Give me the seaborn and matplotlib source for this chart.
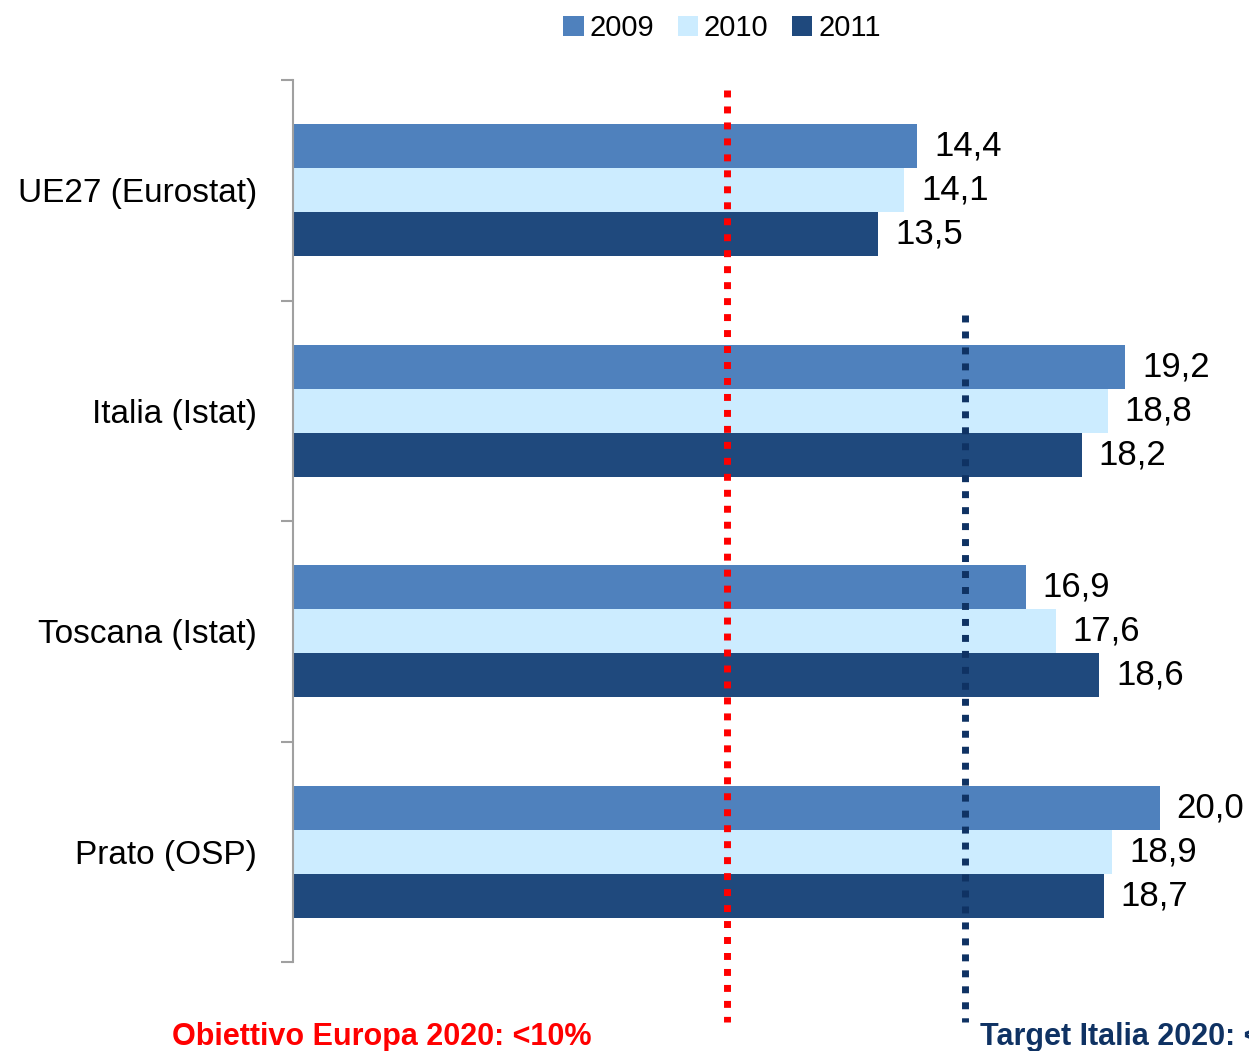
import pandas as pd
import numpy as np
import matplotlib.pyplot as plt
import seaborn as sns
from matplotlib.ticker import FixedLocator

# Data
categories = ['UE27 (Eurostat)', 'Italia (Istat)', 'Toscana (Istat)', 'Prato (OSP)']
years = ['2009', '2010', '2011']
v2009 = [14.4, 19.2, 16.9, 20.0]
v2010 = [14.1, 18.8, 17.6, 18.9]
v2011 = [13.5, 18.2, 18.6, 18.7]
target_europa = 10.0
target_italia = 15.5

colors = ['#4F81BD', '#CCECFF', '#1F497D']

df = pd.DataFrame({
    'Area': categories * 3,
    'Anno': [y for y in years for _ in categories],
    'Valore': v2009 + v2010 + v2011,
})

sns.set_style('white')
plt.rcParams['font.family'] = ['Liberation Sans Narrow', 'Liberation Sans', 'DejaVu Sans']
plt.rcParams['text.color'] = 'black'
plt.rcParams['ytick.labelcolor'] = 'black'

fig = plt.figure(figsize=(12.49, 10.51), dpi=100)
ax = fig.add_axes([293 / 1249, 1 - 962 / 1051, 1 - 293 / 1249, 882 / 1051])

sns.barplot(data=df, y='Area', x='Valore', hue='Anno', order=categories,
            hue_order=years, palette=colors, saturation=1, width=0.6,
            linewidth=0, orient='h', ax=ax)

ax.set_xlim(0, 956 / 43.35)
ax.set_ylim(3.5, -0.5)
ax.set_xlabel('')
ax.set_ylabel('')
ax.set_xticks([])

# value labels
for cont in ax.containers:
    labels = [f'{v:.1f}'.replace('.', ',') for v in cont.datavalues]
    ax.bar_label(cont, labels=labels, padding=12, fontsize=25, color='black', clip_on=False)

# spines and ticks
for s in ['top', 'right', 'bottom']:
    ax.spines[s].set_visible(False)
ax.spines['left'].set_color('#A0A0A0')
ax.spines['left'].set_linewidth(1.5)
ax.yaxis.set_minor_locator(FixedLocator([-0.5, 0.5, 1.5, 2.5, 3.5]))
ax.tick_params(axis='y', which='major', length=0, pad=26, labelsize=24, labelcolor='black')
ax.tick_params(axis='y', which='minor', length=9, width=1.5, color='#A0A0A0', left=True)

# target lines
ax.plot([target_europa, target_europa], [-0.455, 3.77], color='#FF0000', lw=5,
        linestyle=(0, (1, 1.3)), clip_on=False, zorder=5)
ax.plot([target_italia, target_italia], [0.566, 3.77], color='#0F3263', lw=5,
        linestyle=(0, (1, 1.3)), clip_on=False, zorder=5)

fig.text(172 / 1249, 1 - 1045 / 1051, 'Obiettivo Europa 2020: <10%', color='#FF0000',
         fontsize=22, fontweight='bold', family=['Liberation Sans', 'DejaVu Sans'],
         va='baseline')
fig.text(980 / 1249, 1 - 1045 / 1051, 'Target Italia 2020: <15-16%', color='#0F3263',
         fontsize=22, fontweight='bold', family=['Liberation Sans', 'DejaVu Sans'],
         va='baseline')

# legend
handles, labels = ax.get_legend_handles_labels()
ax.legend_.remove()
fig.legend(handles, labels, loc='center', bbox_to_anchor=(722 / 1249, 1 - 28 / 1051),
           ncol=3, frameon=False, fontsize=21, handlelength=0.7, handleheight=0.7,
           handletextpad=0.2, columnspacing=0.8)

plt.savefig('out.png', dpi=100)
plt.close()
